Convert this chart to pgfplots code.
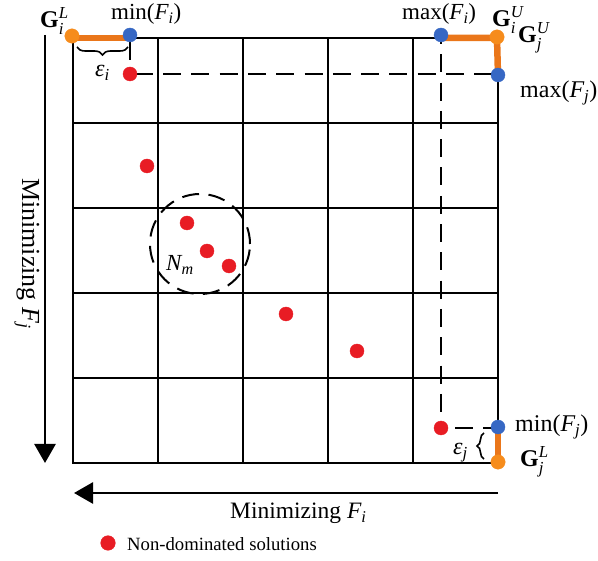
\documentclass[border=0pt]{standalone}
\usepackage{amsmath}
\usepackage{fontspec}
\setmainfont{Liberation Serif}
\usepackage{pgfplots}
\pgfplotsset{compat=1.18}
\usetikzlibrary{arrows.meta,decorations.pathreplacing}
\definecolor{cred}{RGB}{232,28,36}
\definecolor{cblue}{RGB}{55,104,196}
\definecolor{corange}{RGB}{246,140,28}
\definecolor{corangeline}{RGB}{234,118,26}
\newcommand{\lf}{\fontsize{24}{26}\selectfont}
\begin{document}
\begin{tikzpicture}
\begin{axis}[
  width=598pt,height=561pt,scale only axis,
  xmin=0,xmax=598,ymin=0,ymax=561,y dir=reverse,
  axis lines=none, clip=false,
  unbounded coords=jump,
]
\coordinate (BL) at (axis cs:0,561);
\coordinate (TR) at (axis cs:598,0);
% grid 5x5
\addplot[black,line width=2.5pt,line cap=rect] coordinates {
(73,38) (498,38) (nan,nan)
(73,123) (498,123) (nan,nan)
(73,208) (498,208) (nan,nan)
(73,293) (498,293) (nan,nan)
(73,378) (498,378) (nan,nan)
(73,463) (498,463) (nan,nan)
(73,38) (73,463) (nan,nan)
(158,38) (158,463) (nan,nan)
(243,38) (243,463) (nan,nan)
(328,38) (328,463) (nan,nan)
(413,38) (413,463) (nan,nan)
(498,38) (498,463)
};
% dashed guide lines
\addplot[black,line width=2pt,dash pattern=on 18pt off 10.3pt,dash phase=23.6pt] coordinates {(130,74) (498,74)};
\addplot[black,line width=2pt,dash pattern=on 18pt off 10.3pt,dash phase=10pt] coordinates {(441,36) (441,428)};
\addplot[black,line width=2pt,dash pattern=on 18pt off 10pt,dash phase=14pt] coordinates {(441,428) (498,428)};
\addplot[black,line width=2pt] coordinates {(130,36) (130,60)};
% arrows
\addplot[black,line width=2.7pt,-{Triangle[length=19pt,width=21pt]}] coordinates {(45,35) (45,463)};
\addplot[black,line width=2.7pt,-{Triangle[length=19pt,width=21pt]}] coordinates {(498,493) (74,493)};
% dashed circle around N_m
\draw[black,line width=2pt,dash pattern=on 17pt off 9.5pt] (axis cs:200,244) circle[radius=50pt];
% orange bounds
\addplot[corangeline,line width=6.5pt] coordinates {(72,38) (130,38)};
\addplot[corangeline,line width=6.5pt,line join=round] coordinates {(441,38) (497,38) (498,75)};
\addplot[corangeline,line width=6.5pt] coordinates {(498,428) (498,462)};
% braces
\draw[black,line width=1.6pt,decorate,decoration={brace,amplitude=8pt}] (axis cs:128,47) -- (axis cs:77,47);
\draw[black,line width=1.6pt,decorate,decoration={brace,amplitude=7pt}] (axis cs:484,459) -- (axis cs:484,433);
% points
\addplot[only marks,mark=*,mark size=7.2pt,mark options={fill=corange,draw=corange}] coordinates {(72,36) (497,37) (498,462)};
\addplot[only marks,mark=*,mark size=7pt,mark options={fill=cblue,draw=cblue}] coordinates {(130,35) (441,35) (498,75) (498,427)};
\addplot[only marks,mark=*,mark size=7pt,mark options={fill=cred,draw=cred}] coordinates {
(130,74) (147,166) (187,223) (207,251) (229,266) (286,314) (357,351) (441,428)};
% legend marker
\addplot[only marks,mark=*,mark size=7.3pt,mark options={fill=cred,draw=cred}] coordinates {(108,543)};
% labels
\node[font=\lf,inner sep=0,anchor=base west] at (axis cs:40,28) {$\textbf{G}_{\textit{i}}^{\textit{L}}$};
\node[font=\fontsize{23}{25}\selectfont,inner sep=0,anchor=base west] at (axis cs:111,19.5) {min($\textit{F}_{\textit{i}}$)};
\node[font=\fontsize{23}{25}\selectfont,inner sep=0,anchor=base west] at (axis cs:402,19.5) {max($\textit{F}_{\textit{i}}$)};
\node[font=\lf,inner sep=0,anchor=base west] at (axis cs:492,27) {$\textbf{G}_{\textit{i}}^{\textit{U}}$};
\node[font=\lf,inner sep=0,anchor=base west] at (axis cs:518,43) {$\textbf{G}_{\textit{j}}^{\textit{U}}$};
\node[font=\lf,inner sep=0,anchor=base west] at (axis cs:520,98) {max($\textit{F}_{\textit{j}}$)};
\node[font=\lf,inner sep=0,anchor=base west] at (axis cs:515,432) {min($\textit{F}_{\textit{j}}$)};
\node[font=\lf,inner sep=0,anchor=base west] at (axis cs:520,467) {$\textbf{G}_{\textit{j}}^{\textit{L}}$};
\node[font=\lf,inner sep=0,anchor=base west] at (axis cs:95,77) {$\textit{ε}_{\textit{i}}$};
\node[font=\lf,inner sep=0,anchor=base west] at (axis cs:453,455) {$\textit{ε}_{\textit{j}}$};
\node[font=\fontsize{23}{25}\selectfont,inner sep=0,anchor=base west] at (axis cs:166,271) {$\textit{N}_{\textit{m}}$};
\node[font=\fontsize{26}{28}\selectfont,inner sep=0,rotate=-90,anchor=base west] at (axis cs:22,178) {Minimizing $\textit{F}_{\textit{j}}$};
\node[font=\fontsize{23.5}{25}\selectfont,inner sep=0,anchor=base west] at (axis cs:230,519) {Minimizing $\textit{F}_{\textit{i}}$};
\node[font=\fontsize{18.7}{20}\selectfont,inner sep=0,anchor=base west] at (axis cs:127,551) {Non-dominated solutions};
\end{axis}
\pgfresetboundingbox
\path (BL) rectangle (TR);
\end{tikzpicture}
\end{document}
